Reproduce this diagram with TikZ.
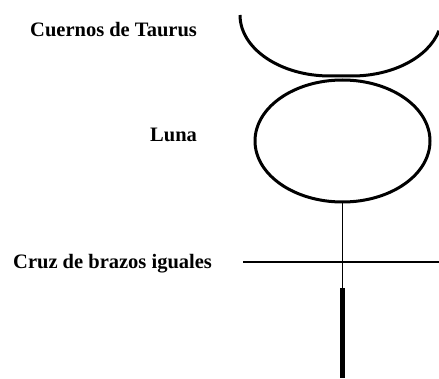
\documentclass[tikz,border=0pt]{standalone}
\usepackage{fontspec}
\setmainfont{Liberation Serif}
\begin{document}
\begin{tikzpicture}[x=1pt,y=1pt,
  lbl/.style={anchor=base west,inner sep=0pt,font=\fontsize{20.5}{24}\selectfont\bfseries},
  stroke/.style={line width=3pt,line cap=butt}]
\useasboundingbox (0,0) rectangle (439,378);
\clip (0,0) rectangle (439,378);
% labels
\node[lbl] (taurus) at (30,341.3) {Cuernos de Taurus};
\node[lbl] (luna) at (150,236.3) {Luna};
\node[lbl] (cruz) at (13,110) {Cruz de brazos iguales};
% horns
\draw[stroke] (240,363) arc[start angle=180,end angle=270,x radius=90,y radius=61]
  -- (352,302) arc[start angle=270,end angle=345,x radius=90,y radius=61];
% moon
\draw[stroke] (342.5,237) ellipse[x radius=87.5,y radius=61];
% vertical stem
\coordinate (moonbot) at (342.5,176);
\coordinate (mid) at (342.5,90);
\coordinate (stemend) at (342.5,0);
\draw[line width=1.3pt] (moonbot) -- (mid);
\draw[line width=4.5pt] (mid) -- (stemend);
% cross bar
\coordinate (barL) at (243,116);
\coordinate (barR) at (439,116);
\draw[line width=2.5pt] (barL) -- (barR);
\end{tikzpicture}
\end{document}
